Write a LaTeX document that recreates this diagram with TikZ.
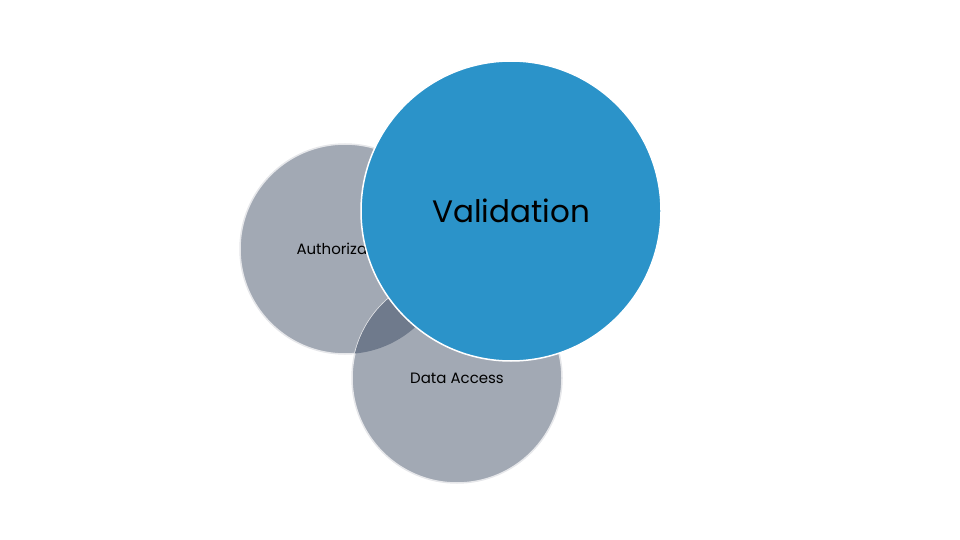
\documentclass[tikz,border=0pt]{standalone}
\usepackage{fontspec}
\setmainfont{Poppins}
\definecolor{cgray}{HTML}{A2A9B4}
\definecolor{cdark}{HTML}{6F7A8C}
\definecolor{cblue}{HTML}{2B93C9}
\definecolor{cedge}{HTML}{E6E7EA}
\begin{document}
\begin{tikzpicture}[x=1pt,y=-1pt,
  circ/.style={circle,draw=cedge,line width=1.5pt,inner sep=0pt}]
\useasboundingbox (0,0) rectangle (960,540);
\node[circ,fill=cgray,minimum size=210pt] (auth) at (345,249) {};
\node[circ,fill=cgray,minimum size=210pt] (data) at (457,378) {};
\begin{scope}
\clip (345,249) circle (105);
\fill[cdark] (457,378) circle (105);
\end{scope}
\node[font=\fontsize{15}{18}\selectfont] (authtxt) at (346,249) {Authorization};
\node[font=\fontsize{15}{18}\selectfont] (datatxt) at (457,378) {Data Access};
\node[circ,fill=cblue,minimum size=300pt,draw=white] (val) at (511,211) {};
\node[font=\fontsize{31}{36}\selectfont] (valtxt) at (511,211) {Validation};
\end{tikzpicture}
\end{document}
